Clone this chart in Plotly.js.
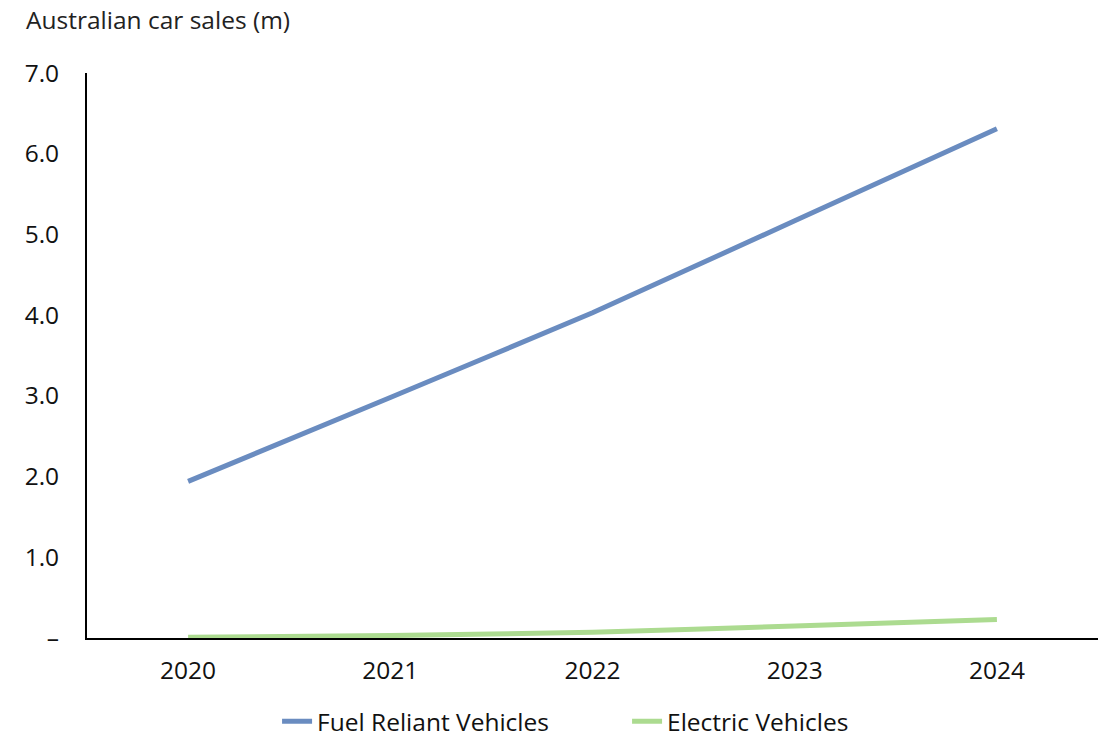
<!DOCTYPE html>
<html>
<head>
<meta charset="utf-8">
<script src="https://cdn.plot.ly/plotly-3.0.1.min.js"></script>
<style>html,body{margin:0;padding:0;background:#fff;}#chart{width:1115px;height:739px;}</style>
</head>
<body>
<div id="chart"></div>
<script>
const years = ["2020", "2021", "2022", "2023", "2024"];
const fuelReliant = [1.94, 2.98, 4.03, 5.17, 6.31];
const electric = [0.01, 0.03, 0.07, 0.15, 0.23];
const yTickVals = [0, 1, 2, 3, 4, 5, 6, 7];
const yTickText = ["\u2013", "1.0", "2.0", "3.0", "4.0", "5.0", "6.0", "7.0"];

const FONT = "'Open Sans', 'Noto Sans', sans-serif";
const FS = 24.5;
const traces = [
  {x: years, y: fuelReliant, name: "Fuel Reliant Vehicles", type: "scatter", mode: "lines",
   line: {color: "#6a8cc0", width: 5, shape: "spline", smoothing: 0.3}},
  {x: years, y: electric, name: "Electric Vehicles", type: "scatter", mode: "lines",
   line: {color: "#acdb90", width: 5, shape: "spline", smoothing: 0.3}}
];
const layout = {
  width: 1115, height: 739,
  margin: {l: 87, r: 17, t: 73, b: 101, autoexpand: false},
  paper_bgcolor: "#fff", plot_bgcolor: "#fff",
  font: {family: FONT, size: FS, color: "#111"},
  showlegend: true,
  legend: {orientation: "h", x: 0.188, xanchor: "left", yref: "container", y: 0.024, yanchor: "middle",
           font: {family: FONT, size: FS, color: "#111"}, entrywidth: 305, tracegroupgap: 0},
  xaxis: {type: "category", range: [-0.5, 4.5], showgrid: false, zeroline: false, automargin: false,
          showline: true, linecolor: "#000", linewidth: 2, ticks: "", ticklabelstandoff: 10,
          tickfont: {family: FONT, size: FS, color: "#111"}, fixedrange: true},
  yaxis: {range: [0, 7], showgrid: false, zeroline: false, showline: true, linecolor: "#000", automargin: false,
          linewidth: 2, ticks: "", tickvals: yTickVals, ticktext: yTickText,
          ticklabelstandoff: 21,
          tickfont: {family: FONT, size: FS, color: "#111"}, fixedrange: true},
  annotations: [{text: "Australian car sales (m)", xref: "paper", yref: "paper", x: -0.062, y: 1.095,
                 xanchor: "left", yanchor: "middle", showarrow: false,
                 font: {family: FONT, size: FS, color: "#222"}}]
};
Plotly.newPlot("chart", traces, layout, {displayModeBar: false, staticPlot: true});
</script>
</body>
</html>
